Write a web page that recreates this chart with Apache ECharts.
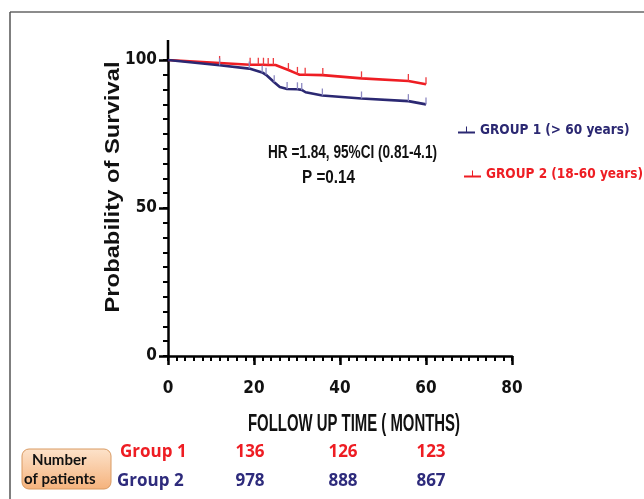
<!DOCTYPE html>
<html>
<head>
    <meta charset="utf-8">
    <title>Survival</title>
    <style>
        html, body { margin: 0; padding: 0; background: #fff; }
        #charts { width: 644px; height: 499px; }
    </style>
</head>
<body>
<div id="charts"></div>
<script src="https://cdn.jsdelivr.net/npm/echarts@6/dist/echarts.min.js"></script>
<script>
    // curve points: month, survival %, censored (1 = tick mark)
    var g1Months = [0, 12, 18.9, 21.9, 22.8, 24.7, 26, 27.7, 30.1, 31.1, 32, 35.9, 45, 55.9, 60];
    var g1Surv   = [100, 98.2, 97.1, 95.8, 95, 92.5, 90.9, 90.2, 90.1, 89.9, 89.1, 88, 87, 86.1, 85];
    var g1Cens   = [0, 1, 1, 1, 1, 1, 0, 1, 1, 1, 0, 1, 1, 1, 1];

    var g2Months = [0, 12, 19.1, 21, 22.2, 23.3, 24.5, 25, 28, 30.1, 30.6, 31.9, 36, 45, 55.9, 60];
    var g2Surv   = [100, 99, 98.4, 98.4, 98.4, 98.3, 98.3, 98.3, 96.6, 95.3, 95, 95, 94.9, 93.8, 92.9, 91.8];
    var g2Cens   = [0, 1, 1, 1, 1, 1, 1, 0, 1, 1, 0, 1, 1, 1, 1, 1];

    var seriesNames = ['GROUP 1 (> 60 years)', 'GROUP 2 (18-60 years)'];
    var rowNames = ['Group 1', 'Group 2'];
    var atRiskG1 = [136, 126, 123];
    var atRiskG2 = [978, 888, 867];

    var navy = '#2b2872';
    var red = '#ee1d23';
    var cond = "'Liberation Sans Narrow', 'DejaVu Sans Condensed', sans-serif";
    var arialB = "'Liberation Sans', Arial, sans-serif";

    // squeeze Arial-like text to a given width (the picture uses a narrow face)
    var measureCtx = document.createElement('canvas').getContext('2d');
    function squeezed(text, font, x, y, width, color, rot) {
        measureCtx.font = font;
        var w = measureCtx.measureText(text).width;
        return {
            type: 'text', x: x, y: y, scaleX: width / w, rotation: rot || 0,
            style: { text: text, font: font, fill: color, textAlign: rot ? 'center' : 'left', textVerticalAlign: 'middle' }
        };
    }

    function buildData(months, surv, cens, markColor) {
        var out = [];
        for (var i = 0; i < months.length; i++) {
            var item = { value: [months[i], surv[i]] };
            if (cens[i]) {
                item.symbol = 'rect';
                item.symbolSize = [1.3, 7];
                item.symbolOffset = [0, -3.5];
                item.itemStyle = { color: markColor };
            } else {
                item.symbol = 'none';
            }
            out.push(item);
        }
        return out;
    }

    var legendIcon = 'path://M0,7L20,7L20,9.5L0,9.5Z M9.4,1L10.6,1L10.6,7L9.4,7Z';

    var myChart = echarts.init(document.getElementById('charts'));

    // number-at-risk table under the axis
    var colX = [250, 343, 431];
    var tableGraphics = [];
    for (var c = 0; c < colX.length; c++) {
        tableGraphics.push({
            type: 'text', x: colX[c], y: 452,
            style: { text: String(atRiskG1[c]), fill: red, font: "bold 17px 'Open Sans', sans-serif", textAlign: 'center', textVerticalAlign: 'middle' }
        });
        tableGraphics.push({
            type: 'text', x: colX[c], y: 481,
            style: { text: String(atRiskG2[c]), fill: '#2e2b7c', font: "bold 17px 'Open Sans', sans-serif", textAlign: 'center', textVerticalAlign: 'middle' }
        });
    }

    var option = {
        animation: false,
        backgroundColor: '#fff',
        grid: { left: 168, top: 60, right: 132, bottom: 143 },
        legend: [{
            left: 453, top: 118, itemWidth: 17, itemHeight: 10,
            selectedMode: false,
            data: [{ name: seriesNames[0], icon: legendIcon, textStyle: { color: navy } }],
            textStyle: { fontFamily: cond, fontWeight: 'bold', fontSize: 13.5 }
        }, {
            left: 459, top: 162, itemWidth: 17, itemHeight: 10,
            selectedMode: false,
            data: [{ name: seriesNames[1], icon: legendIcon, textStyle: { color: red } }],
            textStyle: { fontFamily: cond, fontWeight: 'bold', fontSize: 13.5 }
        }],
        xAxis: [{
            // small ticks every 2 months, labels every 20
            type: 'value', min: 0, max: 80, interval: 2,
            axisLine: { lineStyle: { color: '#000', width: 2.5 } },
            axisTick: { length: 5, lineStyle: { color: '#000', width: 2 } },
            axisLabel: {
                fontFamily: cond, fontWeight: 'bold', fontSize: 17, color: '#111', margin: 24,
                formatter: function (v) { return v % 20 === 0 ? String(v) : ''; }
            },
            splitLine: { show: false }
        }, {
            // longer ticks at the labelled values
            type: 'value', min: 0, max: 80, interval: 20, position: 'bottom',
            axisLine: { show: false },
            axisTick: { show: true, length: 9, lineStyle: { color: '#000', width: 2.5 } },
            axisLabel: { show: false },
            splitLine: { show: false }
        }],
        yAxis: [{
            type: 'value', min: 0, max: 100, interval: 5,
            axisLine: { show: true, lineStyle: { color: '#000', width: 2.5 } },
            axisTick: { show: true, length: 5, lineStyle: { color: '#000', width: 2 } },
            axisLabel: {
                fontFamily: cond, fontWeight: 'bold', fontSize: 17, color: '#111', margin: 11,
                formatter: function (v) { return v % 50 === 0 ? String(v) : ''; }
            },
            splitLine: { show: false }
        }, {
            type: 'value', min: 0, max: 100, interval: 50, position: 'left',
            axisLine: { show: false },
            axisTick: { show: true, length: 9, lineStyle: { color: '#000', width: 2.5 } },
            axisLabel: { show: false },
            splitLine: { show: false }
        }],
        series: [{
            name: seriesNames[0], type: 'line',
            showSymbol: true,
            lineStyle: { color: navy, width: 2.6 },
            itemStyle: { color: navy },
            data: buildData(g1Months, g1Surv, g1Cens, '#8d89c2'),
            z: 3
        }, {
            name: seriesNames[1], type: 'line',
            showSymbol: true,
            lineStyle: { color: red, width: 2.6 },
            itemStyle: { color: red },
            data: buildData(g2Months, g2Surv, g2Cens, '#ee3b3f'),
            z: 2
        }],
        graphic: [
            // frame of the figure
            { type: 'line', shape: { x1: 10, y1: 12, x2: 644, y2: 12 }, style: { stroke: '#8c8c8c', lineWidth: 2 } },
            { type: 'line', shape: { x1: 10, y1: 12, x2: 10, y2: 499 }, style: { stroke: '#555', lineWidth: 1.5 } },
            // y axis runs a little past 100
            { type: 'line', shape: { x1: 168, y1: 40, x2: 168, y2: 60 }, style: { stroke: '#000', lineWidth: 2.5 } },
            // axis titles
            squeezed('Probability of Survival', 'bold 21px ' + arialB, 113, 187, 251, '#111', Math.PI / 2),
            squeezed('FOLLOW UP TIME ( MONTHS)', 'bold 24px ' + arialB, 248, 424, 212, '#111'),
            // statistics
            squeezed('HR =1.84, 95%CI (0.81-4.1)', 'bold 18px ' + arialB, 268, 153, 169, '#111'),
            squeezed('P =0.14', 'bold 18px ' + arialB, 302, 178, 53, '#111'),
            // number of patients box
            { type: 'rect', shape: { x: 22, y: 449, width: 89, height: 40, r: 7 },
              style: {
                  fill: new echarts.graphic.LinearGradient(0, 0, 0, 1, [
                      { offset: 0, color: '#fde3cb' }, { offset: 1, color: '#f5b27c' }
                  ]),
                  stroke: '#d99a62', lineWidth: 1
              } },
            { type: 'text', x: 32, y: 460,
              style: { text: 'Number', fill: '#111', font: "bold 15px Lato, 'Open Sans', sans-serif", textVerticalAlign: 'middle' } },
            { type: 'text', x: 24, y: 479,
              style: { text: 'of patients', fill: '#111', font: "bold 15px Lato, 'Open Sans', sans-serif", textVerticalAlign: 'middle' } },
            { type: 'text', x: 120, y: 452,
              style: { text: rowNames[0], fill: red, font: "bold 17px 'Open Sans', sans-serif", textVerticalAlign: 'middle' } },
            { type: 'text', x: 117, y: 481,
              style: { text: rowNames[1], fill: '#2e2b7c', font: "bold 17px 'Open Sans', sans-serif", textVerticalAlign: 'middle' } }
        ].concat(tableGraphics)
    };

    myChart.setOption(option);
</script>
</body>
</html>
